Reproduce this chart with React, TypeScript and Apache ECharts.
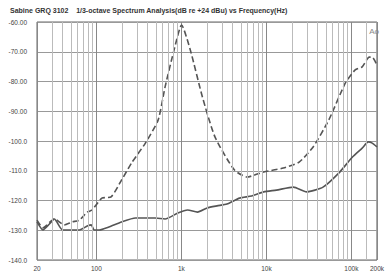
import React, { useEffect, useRef } from "react";
import * as echarts from "echarts";

const TITLE = "Sabine GRQ 3102    1/3-octave Spectrum Analysis(dB re +24 dBu) vs Frequency(Hz)";
const CORNER_LABEL = "Ao";

// Dashed trace: [frequency Hz, level dB]
const dashedFreq = [20, 23.5, 32, 42, 52, 63, 78, 89, 116, 149, 198, 259, 377, 533, 643, 837, 1004, 1273, 1767, 2490, 4190, 5930, 9300, 15800, 24300, 35500, 54300, 85000, 111000, 134000, 162000, 176000, 200000];
const dashedLevel = [-126.6, -129.2, -126.2, -128.2, -127.2, -126.6, -123.9, -123.2, -119.2, -118.8, -113.1, -107.4, -100.7, -92.9, -81.8, -68.4, -61.0, -69.4, -85.2, -98.7, -109.7, -112.1, -110.4, -109.1, -107.1, -102.0, -92.9, -80.5, -76.1, -75.1, -71.8, -71.8, -74.5];

// Solid trace
const solidFreq = [20, 23.5, 28, 32, 40, 63, 78, 87, 94, 108, 140, 198, 288, 377, 491, 643, 908, 1182, 1546, 2014, 2630, 3430, 4840, 6700, 9300, 13100, 20800, 29700, 46400, 71000, 103000, 134000, 158000, 176000, 200000];
const solidLevel = [-127.2, -129.9, -127.9, -126.2, -129.9, -129.9, -128.6, -128.2, -129.9, -129.9, -128.9, -127.2, -125.9, -125.9, -125.9, -126.2, -124.2, -123.2, -123.9, -122.5, -121.8, -121.2, -119.2, -118.5, -117.1, -116.5, -115.5, -117.1, -115.5, -110.8, -105.4, -102.4, -100.3, -100.7, -102.0];

// Minor vertical grid positions (Hz)
const minorGridFreqs = [
  30, 40, 50, 60, 70, 80, 90,
  200, 300, 400, 500, 600, 700, 800, 900,
  2000, 3000, 4000, 5000, 6000, 7000, 8000, 9000,
  20000, 30000, 40000, 50000, 60000, 70000, 80000, 90000,
  150000,
];

const X_MIN = 20;
const X_MAX = 200000;
const Y_MIN = -140;
const Y_MAX = -60;
const Y_STEP = 10;

function fmtX(v: number): string {
  if (v >= 1000) return Math.round(v / 1000) + "k";
  return String(Math.round(v));
}
function fmtY(v: number): string {
  const a = Math.abs(v).toPrecision(4);
  return (v < 0 ? "-" : "") + a;
}

export default function App() {
  const ref = useRef<HTMLDivElement>(null);
  useEffect(() => {
    if (!ref.current) return;
    const chart = echarts.init(ref.current, undefined, { renderer: "svg" });
    const dashed = dashedFreq.map((f, i) => [f, dashedLevel[i]]);
    const solid = solidFreq.map((f, i) => [f, solidLevel[i]]);
    chart.setOption({
      animation: false,
      backgroundColor: "#ffffff",
      title: {
        text: TITLE,
        left: 5,
        top: 2,
        textStyle: { fontSize: 7, fontWeight: "bold", color: "#333", fontFamily: "Liberation Sans, Arial, sans-serif" },
      },
      graphic: [
        {
          type: "text",
          right: 8,
          top: 27,
          style: { text: CORNER_LABEL, fontSize: 8, fill: "#888", fontFamily: "Liberation Sans, Arial, sans-serif" },
        },
      ],
      grid: {
        left: 37,
        right: 5,
        top: 22,
        bottom: 16,
        show: true,
        borderColor: "#666",
        borderWidth: 1,
      },
      xAxis: {
        type: "log",
        logBase: 10,
        min: X_MIN,
        max: X_MAX,
        axisLine: { show: false },
        axisTick: { show: false },
        axisLabel: {
          formatter: fmtX,
          fontSize: 6.5,
          color: "#444",
          margin: 5,
          showMinLabel: true,
          showMaxLabel: true,
          fontFamily: "Liberation Sans, Arial, sans-serif",
        },
        splitLine: { show: true, lineStyle: { color: "#888", width: 1 } },
      },
      yAxis: {
        type: "value",
        min: Y_MIN,
        max: Y_MAX,
        interval: Y_STEP,
        axisLine: { show: false },
        axisTick: { show: false },
        axisLabel: {
          formatter: fmtY,
          fontSize: 6.5,
          color: "#444",
          margin: 10,
          fontFamily: "Liberation Sans, Arial, sans-serif",
        },
        splitLine: { show: true, lineStyle: { color: "#999", width: 1 } },
      },
      series: [
        {
          type: "line",
          name: "grid",
          data: [],
          silent: true,
          markLine: {
            silent: true,
            symbol: "none",
            label: { show: false },
            lineStyle: { color: "#bbb", width: 1, type: "solid" },
            data: minorGridFreqs.map((f) => ({ xAxis: f })),
          },
        },
        {
          type: "line",
          name: "dashed",
          data: dashed,
          showSymbol: false,
          smooth: 0.2,
          lineStyle: { color: "#555", width: 1.6, type: [6, 3] },
        },
        {
          type: "line",
          name: "solid",
          data: solid,
          showSymbol: false,
          smooth: 0.2,
          lineStyle: { color: "#555", width: 1.6 },
        },
      ],
    });
    return () => chart.dispose();
  }, []);
  return (
    <div
      ref={ref}
      style={{ position: "fixed", left: 0, top: 0, width: 387, height: 276, background: "#fff" }}
    />
  );
}
